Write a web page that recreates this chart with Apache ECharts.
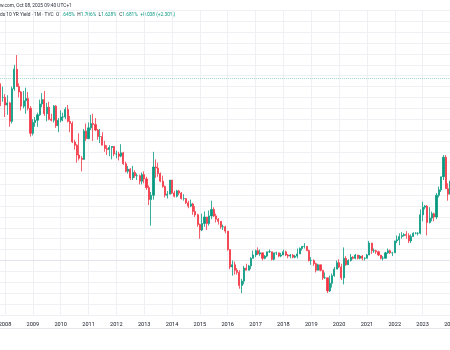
<!DOCTYPE html>
<html>
<head>
<meta charset="utf-8">
<script src="https://cdn.jsdelivr.net/npm/echarts@6/dist/echarts.min.js"></script>
<style>
  html, body { margin: 0; padding: 0; background: #ffffff; }
  #chart { width: 450px; height: 350px; }
</style>
</head>
<body>
<div id="chart"></div>
<script>
// Japan 10Y government bond yield, monthly candles (%), Oct 2007 .. Jan 2024
const firstYear = 2007;
const firstMonth = 10;

const opens = [
  1.66, 1.62, 1.50,
  1.50, 1.43, 1.45, 1.28, 1.58, 1.76, 1.60, 1.55, 1.42, 1.47, 1.49, 1.40,
  1.17, 1.27, 1.29, 1.34, 1.44, 1.48, 1.35, 1.41, 1.30, 1.29, 1.42, 1.24,
  1.29, 1.32, 1.32, 1.39, 1.28, 1.26, 1.09, 1.06, 0.97, 0.94, 0.93, 1.19,
  1.12, 1.22, 1.26, 1.25, 1.20, 1.14, 1.14, 1.06, 1.03, 1.02, 1.04, 1.05,
  0.98, 0.98, 0.96, 0.99, 0.89, 0.82, 0.84, 0.76, 0.81, 0.78, 0.78, 0.73,
  0.79, 0.75, 0.67, 0.56, 0.60, 0.86, 0.85, 0.80, 0.73, 0.68, 0.60, 0.61,
  0.74, 0.62, 0.59, 0.64, 0.62, 0.57, 0.57, 0.53, 0.50, 0.52, 0.45, 0.42,
  0.33, 0.28, 0.34, 0.40, 0.34, 0.41, 0.47, 0.41, 0.38, 0.36, 0.31, 0.31,
  0.27, 0.10, -0.06, -0.04, -0.09, -0.11, -0.23, -0.19, -0.07, -0.09, -0.05, 0.02,
  0.05, 0.09, 0.06, 0.07, 0.02, 0.04, 0.08, 0.08, 0.01, 0.07, 0.07, 0.04,
  0.05, 0.08, 0.05, 0.04, 0.05, 0.03, 0.04, 0.06, 0.11, 0.13, 0.13, 0.09,
  0.00, 0.00, -0.03, -0.09, -0.04, -0.09, -0.16, -0.16, -0.28, -0.21, -0.14, -0.08,
  -0.02, -0.06, -0.16, 0.02, -0.04, 0.00, 0.03, 0.02, 0.05, 0.02, 0.04, 0.02,
  0.02, 0.05, 0.16, 0.09, 0.09, 0.08, 0.05, 0.02, 0.02, 0.07, 0.09, 0.07,
  0.07, 0.18, 0.19, 0.22, 0.23, 0.24, 0.23, 0.18, 0.22, 0.25, 0.25, 0.25,
  0.42, 0.49, 0.50, 0.35, 0.39, 0.43, 0.40, 0.60, 0.65, 0.77, 0.95, 0.66,
  0.61
];
const highs = [
  1.70, 1.63, 1.60,
  1.53, 1.52, 1.46, 1.60, 1.80, 1.89, 1.63, 1.56, 1.56, 1.59, 1.55, 1.42,
  1.30, 1.32, 1.36, 1.48, 1.54, 1.56, 1.45, 1.46, 1.35, 1.43, 1.43, 1.31,
  1.38, 1.36, 1.41, 1.43, 1.33, 1.28, 1.11, 1.07, 1.17, 0.96, 1.21, 1.26,
  1.27, 1.34, 1.35, 1.31, 1.21, 1.21, 1.18, 1.10, 1.06, 1.06, 1.05, 1.05,
  1.01, 1.00, 1.07, 1.00, 0.91, 0.87, 0.85, 0.87, 0.83, 0.80, 0.79, 0.81,
  0.82, 0.77, 0.69, 0.63, 1.00, 0.93, 0.90, 0.81, 0.78, 0.69, 0.64, 0.74,
  0.74, 0.64, 0.65, 0.65, 0.63, 0.61, 0.57, 0.55, 0.56, 0.53, 0.50, 0.43,
  0.34, 0.43, 0.45, 0.40, 0.46, 0.55, 0.49, 0.43, 0.39, 0.36, 0.33, 0.32,
  0.27, 0.10, 0.00, -0.01, -0.07, -0.09, -0.17, -0.05, -0.03, -0.04, 0.03, 0.09,
  0.10, 0.12, 0.10, 0.07, 0.05, 0.08, 0.10, 0.08, 0.07, 0.08, 0.07, 0.07,
  0.10, 0.09, 0.06, 0.06, 0.06, 0.05, 0.11, 0.12, 0.13, 0.16, 0.13, 0.10,
  0.03, 0.01, -0.02, -0.03, -0.04, -0.09, -0.11, -0.16, -0.14, -0.12, -0.06, 0.00,
  0.01, -0.03, 0.12, 0.04, 0.01, 0.06, 0.04, 0.06, 0.05, 0.05, 0.05, 0.03,
  0.06, 0.18, 0.16, 0.11, 0.10, 0.09, 0.05, 0.04, 0.08, 0.11, 0.10, 0.08,
  0.18, 0.23, 0.25, 0.26, 0.25, 0.27, 0.25, 0.24, 0.26, 0.26, 0.26, 0.47,
  0.54, 0.51, 0.51, 0.49, 0.45, 0.44, 0.62, 0.68, 0.77, 0.97, 0.97, 0.71,
  0.74
];
const lows = [
  1.56, 1.42, 1.46,
  1.32, 1.34, 1.23, 1.26, 1.56, 1.60, 1.50, 1.38, 1.40, 1.35, 1.38, 1.14,
  1.15, 1.23, 1.23, 1.33, 1.41, 1.33, 1.28, 1.29, 1.28, 1.27, 1.22, 1.18,
  1.27, 1.28, 1.30, 1.27, 1.18, 1.08, 1.02, 0.90, 0.92, 0.82, 0.93, 1.10,
  1.12, 1.20, 1.10, 1.19, 1.11, 1.08, 1.06, 1.00, 0.97, 0.96, 0.93, 0.96,
  0.94, 0.92, 0.95, 0.88, 0.81, 0.80, 0.74, 0.74, 0.76, 0.74, 0.70, 0.70,
  0.71, 0.65, 0.51, 0.32, 0.56, 0.76, 0.77, 0.72, 0.67, 0.58, 0.57, 0.61,
  0.61, 0.58, 0.58, 0.60, 0.56, 0.55, 0.52, 0.48, 0.49, 0.42, 0.40, 0.31,
  0.20, 0.27, 0.31, 0.28, 0.32, 0.38, 0.40, 0.35, 0.33, 0.29, 0.28, 0.25,
  0.09, -0.08, -0.14, -0.13, -0.13, -0.26, -0.30, -0.22, -0.09, -0.09, -0.08, 0.02,
  0.03, 0.05, 0.04, 0.00, 0.01, 0.03, 0.07, 0.00, 0.00, 0.05, 0.03, 0.03,
  0.05, 0.04, 0.02, 0.02, 0.02, 0.02, 0.02, 0.06, 0.09, 0.11, 0.09, -0.01,
  -0.04, -0.05, -0.11, -0.09, -0.10, -0.18, -0.17, -0.30, -0.29, -0.25, -0.15, -0.08,
  -0.07, -0.18, -0.22, -0.05, -0.04, -0.01, 0.01, 0.01, 0.01, 0.01, 0.00, 0.00,
  0.02, 0.05, 0.06, 0.07, 0.06, 0.04, 0.01, 0.00, 0.02, 0.06, 0.06, 0.04,
  0.07, 0.16, 0.14, 0.20, 0.22, 0.20, 0.16, 0.16, 0.22, 0.24, 0.23, 0.24,
  0.36, 0.47, 0.23, 0.34, 0.36, 0.36, 0.38, 0.58, 0.63, 0.74, 0.66, 0.55,
  0.57
];
const closes = [
  1.62, 1.50, 1.50,
  1.43, 1.45, 1.28, 1.58, 1.76, 1.60, 1.55, 1.42, 1.47, 1.49, 1.40, 1.17,
  1.27, 1.29, 1.34, 1.44, 1.48, 1.35, 1.41, 1.30, 1.29, 1.42, 1.24, 1.29,
  1.32, 1.32, 1.39, 1.28, 1.26, 1.09, 1.06, 0.97, 0.94, 0.93, 1.19, 1.12,
  1.22, 1.26, 1.25, 1.20, 1.14, 1.14, 1.06, 1.03, 1.02, 1.04, 1.05, 0.98,
  0.98, 0.96, 0.99, 0.89, 0.82, 0.84, 0.76, 0.81, 0.78, 0.78, 0.73, 0.79,
  0.75, 0.67, 0.56, 0.60, 0.86, 0.85, 0.80, 0.73, 0.68, 0.60, 0.61, 0.74,
  0.62, 0.59, 0.64, 0.62, 0.57, 0.57, 0.53, 0.50, 0.52, 0.45, 0.42, 0.33,
  0.28, 0.34, 0.40, 0.34, 0.41, 0.47, 0.41, 0.38, 0.36, 0.31, 0.31, 0.27,
  0.10, -0.06, -0.04, -0.09, -0.11, -0.23, -0.19, -0.07, -0.09, -0.05, 0.02, 0.05,
  0.09, 0.06, 0.07, 0.02, 0.04, 0.08, 0.08, 0.01, 0.07, 0.07, 0.04, 0.05,
  0.08, 0.05, 0.04, 0.05, 0.03, 0.04, 0.06, 0.11, 0.13, 0.13, 0.09, 0.00,
  0.00, -0.03, -0.09, -0.04, -0.09, -0.16, -0.16, -0.28, -0.21, -0.14, -0.08, -0.02,
  -0.06, -0.16, 0.02, -0.04, 0.00, 0.03, 0.02, 0.05, 0.02, 0.04, 0.02, 0.02,
  0.05, 0.16, 0.09, 0.09, 0.08, 0.05, 0.02, 0.02, 0.07, 0.09, 0.07, 0.07,
  0.18, 0.19, 0.22, 0.23, 0.24, 0.23, 0.18, 0.22, 0.25, 0.25, 0.25, 0.42,
  0.49, 0.50, 0.35, 0.39, 0.43, 0.40, 0.60, 0.65, 0.77, 0.95, 0.66, 0.61,
  0.73
];

// Latest bar shown in the legend line (Oct 2025)
const lastBarLabels = ['O', 'H', 'L', 'C'];
const lastBarValues = [1.645, 1.706, 1.628, 1.681];
const lastChange = 0.038;
const lastChangePct = 2.30;

const headerSource = 'w.com, Oct 08, 2025 09:40 UTC+1';
const headerSymbol = 'ds 10 YR Yield · 1M · TVC';

// Month categories "YYYY-MM"
const months = [];
for (let k = 0; k < closes.length; k++) {
  const m0 = firstMonth - 1 + k;
  const y = firstYear + Math.floor(m0 / 12);
  const m = (m0 % 12) + 1;
  months.push(y + '-' + (m < 10 ? '0' + m : '' + m));
}

const UP = '#089981';
const DOWN = '#f23645';
const GRID = '#eef0f3';
const TEXT = '#131722';
const FONT = 'Roboto, "Liberation Sans", sans-serif';

const candles = months.map((m, i) => [opens[i], closes[i], lows[i], highs[i]]);
const isJanuary = (i, v) => typeof v === 'string' ? v.slice(5) === '01' : months[i].slice(5) === '01';

// Legend line as rich text
const richParts = ['{t|' + headerSymbol + '}'];
lastBarLabels.forEach((lab, i) => {
  richParts.push('  {t|' + lab + '}{v|' + lastBarValues[i].toFixed(3) + '%}');
});
richParts.push('  {v|+' + lastChange.toFixed(3) + ' (+' + lastChangePct.toFixed(2) + '%)}');

const chart = echarts.init(document.getElementById('chart'), null, { renderer: 'canvas' });
chart.setOption({
  animation: false,
  backgroundColor: '#ffffff',
  grid: {
    left: -1.96, width: 452.4, top: 10.5, bottom: 35.2,
    containLabel: false,
    outerBoundsMode: 'none'
  },
  xAxis: {
    type: 'category',
    data: months,
    boundaryGap: false,
    axisLine: { show: true, lineStyle: { color: '#e3e5ea', width: 1 } },
    axisTick: { show: false },
    axisLabel: {
      interval: isJanuary,
      formatter: v => v.slice(0, 4),
      fontSize: 5.6,
      fontFamily: FONT,
      color: TEXT,
      margin: 6.8,
      hideOverlap: false
    },
    splitLine: { show: true, interval: isJanuary, lineStyle: { color: GRID, width: 1 } }
  },
  yAxis: {
    type: 'value',
    position: 'right',
    min: -0.5,
    max: 2.3,
    interval: 0.1,
    axisLine: { show: false },
    axisTick: { show: false },
    axisLabel: { show: false },
    splitLine: { show: true, lineStyle: { color: GRID, width: 1 } }
  },
  series: [{
    type: 'candlestick',
    data: candles,
    barWidth: 1.6,
    itemStyle: {
      color: UP, color0: DOWN,
      borderColor: UP, borderColor0: DOWN,
      borderWidth: 0.8
    },
    markLine: {
      silent: true,
      symbol: 'none',
      label: { show: false },
      lineStyle: { type: 'dotted', color: UP, width: 1, opacity: 0.35 },
      data: [{ yAxis: lastBarValues[3] }]
    }
  }],
  graphic: [
    {
      type: 'text', x: 0, y: 6,
      style: { text: headerSource, font: '4.8px ' + FONT, fill: '#2a2e39', verticalAlign: 'middle' }
    },
    {
      type: 'text', x: 0, y: 15,
      style: {
        text: richParts.join(''),
        font: '4.8px ' + FONT,
        verticalAlign: 'middle',
        rich: {
          t: { fill: '#2a2e39', fontSize: 4.8, fontFamily: FONT },
          v: { fill: UP, fontSize: 4.8, fontFamily: FONT }
        }
      }
    },
    {
      type: 'line', silent: true,
      shape: { x1: 0, y1: 328.5, x2: 450, y2: 328.5 },
      style: { stroke: '#e6e8ec', lineWidth: 1 }
    }
  ]
});
</script>
</body>
</html>
